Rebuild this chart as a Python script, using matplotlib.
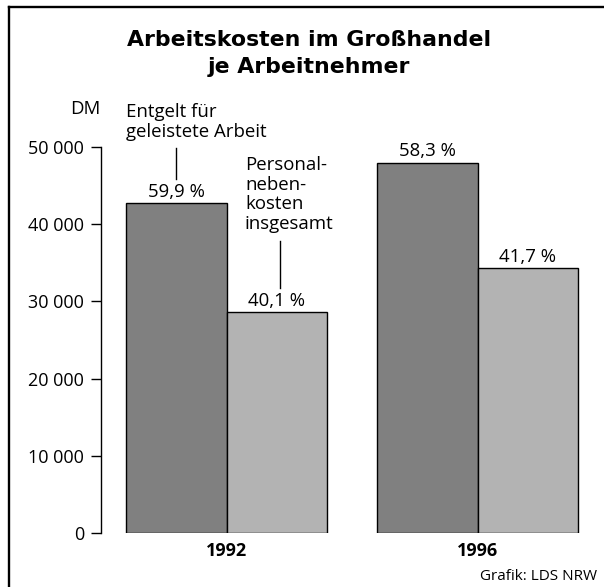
import matplotlib
matplotlib.use("Agg")
import matplotlib.pyplot as plt
from matplotlib.lines import Line2D

years = ["1992", "1996"]
entgelt = [42700, 47900]
nebenkosten = [28600, 34300]
entgelt_pct = ["59,9 %", "58,3 %"]
neben_pct = ["40,1 %", "41,7 %"]
yticks = [0, 10000, 20000, 30000, 40000, 50000]
ytick_labels = ["0", "10 000", "20 000", "30 000", "40 000", "50 000"]

BODY = ["Open Sans", "DejaVu Sans"]
TITLE = ["DejaVu Sans"]
FS = 13.4
FS_TICK = 13.0

W, H = 604, 587
fig = plt.figure(figsize=(W / 100, H / 100), dpi=100)

def fx(px):
    return px / W

def fy(py):
    return 1 - py / H

ax_left, ax_right, ax_top, ax_bot = 101.3, 600, 146.7, 533.3
ax = fig.add_axes([fx(ax_left), fy(ax_bot), fx(ax_right - ax_left), (ax_bot - ax_top) / H])

grp_px = [226.5, 477.7]
unit = grp_px[1] - grp_px[0]
bw = 100.3 / unit
xs = [0, 1]
dark = "#808080"
light = "#b3b3b3"

ax.bar([x - bw / 2 for x in xs], entgelt, width=bw, color=dark, edgecolor="black", linewidth=1.0)
ax.bar([x + bw / 2 for x in xs], nebenkosten, width=bw, color=light, edgecolor="black", linewidth=1.0)

ax.set_xlim(-(grp_px[0] - ax_left) / unit, (ax_right - grp_px[0]) / unit)
ax.set_ylim(0, 50000)

for s in ["top", "right", "bottom"]:
    ax.spines[s].set_visible(False)
ax.spines["left"].set_linewidth(1.0)
ax.set_yticks(yticks)
ax.set_yticklabels(ytick_labels, family=BODY, fontsize=FS_TICK)
ax.tick_params(axis="y", length=6.9, width=1.0, pad=5.5, colors="black")
ax.set_xticks(xs)
ax.set_xticklabels(years, family=BODY, fontsize=FS_TICK, fontweight="bold")
ax.tick_params(axis="x", length=0, pad=6.5)

# percentage labels
off = 850
for i in range(2):
    ax.text(xs[i] - bw / 2, entgelt[i] + off, entgelt_pct[i], ha="center", va="baseline", family=BODY, fontsize=FS)
    ax.text(xs[i] + bw / 2, nebenkosten[i] + off, neben_pct[i], ha="center", va="baseline", family=BODY, fontsize=FS)

# leader lines
ax.plot([-0.201, -0.201], [45800, 49880], color="black", lw=1.0, clip_on=False)
ax.plot([0.2117, 0.2117], [31690, 37850], color="black", lw=1.0, clip_on=False)

# series labels
ax.text(-0.399, 55600, "Entgelt für\ngeleistete Arbeit", ha="left", va="top", family=BODY, fontsize=FS, linespacing=1.12)
ax.text(0.0736, 48750, "Personal-\nneben-\nkosten\ninsgesamt", ha="left", va="top", family=BODY, fontsize=FS, linespacing=1.1)

# DM
fig.text(fx(101), fy(114), "DM", ha="right", va="baseline", family=BODY, fontsize=FS)

# title
fig.text(fx(309.3), fy(46), "Arbeitskosten im Großhandel", ha="center", va="baseline", family=TITLE, fontsize=15.8, fontweight="bold")
fig.text(fx(309.3), fy(73), "je Arbeitnehmer", ha="center", va="baseline", family=TITLE, fontsize=15.8, fontweight="bold")

# source
fig.text(fx(596.7), fy(580), "Grafik: LDS NRW", ha="right", va="baseline", family=BODY, fontsize=11)

# frame (top and left)
fig.add_artist(Line2D([fx(8.5), 1], [fy(7), fy(7)], color="black", lw=1.7, transform=fig.transFigure))
fig.add_artist(Line2D([fx(8.5), fx(8.5)], [fy(7), 0], color="black", lw=1.7, transform=fig.transFigure))

fig.savefig("out.png", dpi=100)
